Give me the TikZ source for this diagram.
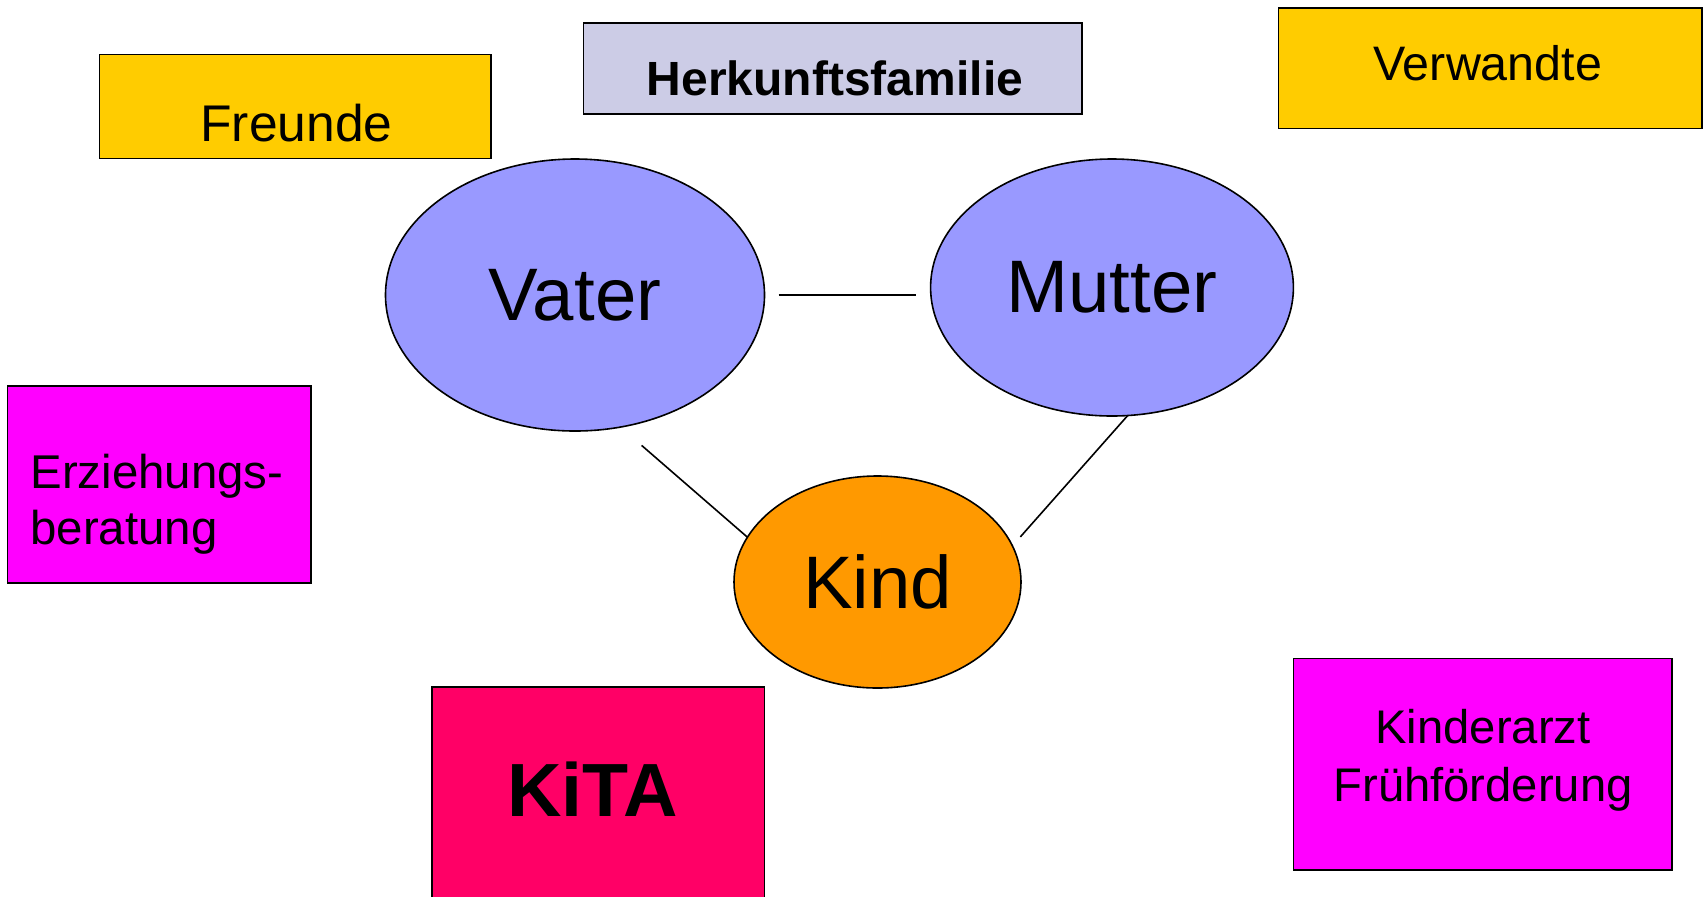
\documentclass[tikz,border=0pt]{standalone}
\usepackage{fontspec}
\setmainfont{Liberation Sans}
\usetikzlibrary{shapes.geometric}
\definecolor{gelb}{RGB}{255,204,0}
\definecolor{lavendel}{RGB}{204,204,230}
\definecolor{eltern}{RGB}{153,153,255}
\definecolor{orange}{RGB}{255,153,0}
\definecolor{pink}{RGB}{255,0,255}
\definecolor{himbeer}{RGB}{255,0,102}
\begin{document}
\begin{tikzpicture}[
x=0.5pt, y=-0.5pt,
kasten/.style={
% The shape:
rectangle,
inner sep=0pt, outer sep=0pt,
% The border:
draw=black, line width=0.8pt
},
person/.style={
% The shape:
ellipse,
inner sep=0pt, outer sep=0pt,
% The border:
draw=black, line width=0.8pt,
% The filling:
fill=eltern,
% Font
font=\fontsize{37.2}{37.2}\selectfont
},
beschriftung/.style={anchor=base, inner sep=0pt},
verbindung/.style={draw=black, line width=0.8pt}
]
\useasboundingbox (0,0) rectangle (1703,896);

% the family
\node[person, minimum width=189.5pt, minimum height=136pt] (vater) at (575,295) {Vater};
\node[person, minimum width=181.4pt, minimum height=128.5pt] (mutter) at (1112,287.5) {Mutter};
\node[person, fill=orange, minimum width=143.5pt, minimum height=106pt] (kind) at (877.5,582) {Kind};

\draw[verbindung, shorten <=7pt, shorten >=7.5pt] (vater.east) -- (vater.east -| mutter.west);
\draw[verbindung, shorten <=14pt] (vater.-71) -- (kind.161);
\draw[verbindung, shorten >=6pt] (mutter.-83) -- (kind.15);

% the boxes around
\node[kasten, fill=gelb, minimum width=195.9pt, minimum height=52pt] (freunde) at (295.2,106.3) {};
\node[beschriftung, font=\fontsize{25.8}{25.8}\selectfont] (freundetext) at (296.4,141) {Freunde};

\node[kasten, fill=lavendel, minimum width=249.2pt, minimum height=45.3pt] (herkunft) at (832.5,68.4) {};
\node[beschriftung, font=\fontsize{24}{24}\selectfont\bfseries] (herkunfttext) at (835,95.3) {Herkunftsfamilie};

\node[kasten, fill=gelb, minimum width=211.7pt, minimum height=60.3pt] (verwandte) at (1490,68) {};
\node[beschriftung, font=\fontsize{24.2}{24.2}\selectfont] (verwandtetext) at (1487.7,80) {Verwandte};

\node[kasten, fill=pink, minimum width=151.8pt, minimum height=98.3pt] (beratung) at (159.2,484.4) {};
\node[beschriftung, anchor=base west, align=left, font=\fontsize{23.7}{28}\selectfont] (beratungtext) at (30,544.3) {Erziehungs-\\beratung};

\node[kasten, fill=himbeer, minimum width=166.3pt, minimum height=109pt] (kita) at (598,796) {};
\node[beschriftung, font=\fontsize{37.7}{37.7}\selectfont\bfseries] (kitatext) at (592.7,816.7) {KiTA};

\node[kasten, fill=pink, minimum width=189.2pt, minimum height=105.8pt] (arzt) at (1482.5,764.2) {};
\node[beschriftung, align=center, font=\fontsize{23.6}{29.2}\selectfont] (arzttext) at (1483,801.7) {Kinderarzt\\Frühförderung};
\end{tikzpicture}
\end{document}
